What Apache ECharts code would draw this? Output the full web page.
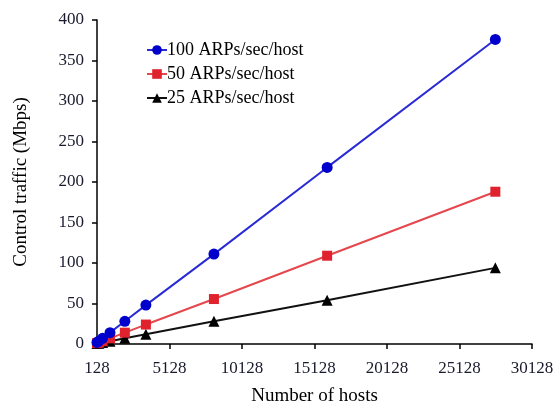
<!DOCTYPE html>
<html>
<head>
<meta charset="utf-8">
<script src="https://cdn.jsdelivr.net/npm/echarts@6/dist/echarts.min.js"></script>
<style>
  html, body { margin: 0; padding: 0; background: #fff; }
  #chart { width: 556px; height: 405px; }
</style>
</head>
<body>
<div id="chart"></div>
<script>
// number of hosts (x values)
const hosts = [128, 256, 512, 1024, 2048, 3500, 8192, 16000, 27600];
// control traffic in Mbps
const arp100 = [2, 3.5, 7, 14, 28, 48, 111, 218, 376];
const arp50 = [1, 1.7, 3.5, 7, 14, 24, 55.5, 109, 188];
const arp25 = [0.5, 0.9, 1.7, 3.5, 7, 12, 28, 54, 94];
const seriesNames = ["100 ARPs/sec/host", "50 ARPs/sec/host", "25 ARPs/sec/host"];

const font = "Liberation Serif";
const pair = (ys) => hosts.map((h, i) => [h, ys[i]]);

const chart = echarts.init(document.getElementById("chart"));
chart.setOption({
  animation: false,
  grid: { left: 97, right: 24, top: 20, bottom: 61, containLabel: false, outerBoundsMode: "none" },
  legend: {
    orient: "vertical",
    left: 141,
    top: 36,
    itemWidth: 20,
    itemHeight: 12,
    itemGap: 6,
    textStyle: { fontFamily: font, fontSize: 18, color: "#000", padding: [0, 0, 0, -5] },
    data: seriesNames,
  },
  xAxis: {
    type: "value",
    min: 128,
    max: 30128,
    interval: 5000,
    name: "Number of hosts",
    nameLocation: "middle",
    nameGap: 43,
    nameTextStyle: { fontFamily: font, fontSize: 19, color: "#000" },
    axisLine: { lineStyle: { color: "#000", width: 1.5 } },
    axisTick: { show: true, length: 5, lineStyle: { color: "#000", width: 1.5 } },
    axisLabel: { fontFamily: font, fontSize: 17, color: "#1a1a2e", margin: 16, formatter: (v) => String(v) },
    splitLine: { show: false },
  },
  yAxis: {
    type: "value",
    min: 0,
    max: 400,
    interval: 50,
    name: "Control traffic (Mbps)",
    nameLocation: "middle",
    nameGap: 66,
    nameTextStyle: { fontFamily: font, fontSize: 19, color: "#000" },
    axisLine: { show: true, lineStyle: { color: "#000", width: 1.5 } },
    axisTick: { show: true, length: 5, lineStyle: { color: "#000", width: 1.5 } },
    axisLabel: { fontFamily: font, fontSize: 17, color: "#1a1a2e", margin: 13 },
    splitLine: { show: false },
  },
  series: [
    {
      name: seriesNames[0],
      type: "line",
      data: pair(arp100),
      symbol: "circle",
      symbolSize: 11,
      lineStyle: { color: "#2b2bd6", width: 2 },
      itemStyle: { color: "#0000cc" },
      z: 3,
    },
    {
      name: seriesNames[1],
      type: "line",
      data: pair(arp50),
      symbol: "rect",
      symbolSize: 10,
      lineStyle: { color: "#e5474d", width: 2 },
      itemStyle: { color: "#e0222e" },
      z: 2,
    },
    {
      name: seriesNames[2],
      type: "line",
      data: pair(arp25),
      symbol: "triangle",
      symbolSize: 11,
      lineStyle: { color: "#111", width: 2 },
      itemStyle: { color: "#000" },
      z: 1,
    },
  ],
});
</script>
</body>
</html>
